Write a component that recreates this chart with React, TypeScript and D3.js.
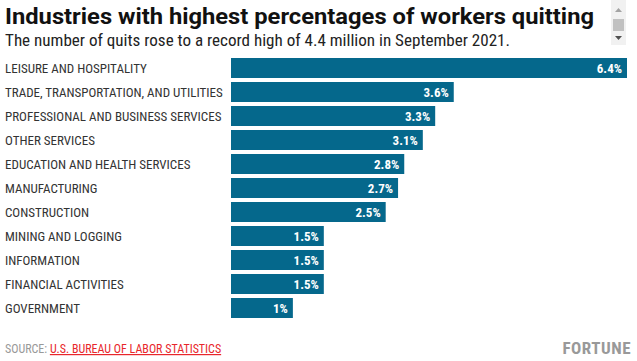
import React, { useEffect, useRef } from 'react';
import * as d3 from 'd3';

const industries = [
  'LEISURE AND HOSPITALITY',
  'TRADE, TRANSPORTATION, AND UTILITIES',
  'PROFESSIONAL AND BUSINESS SERVICES',
  'OTHER SERVICES',
  'EDUCATION AND HEALTH SERVICES',
  'MANUFACTURING',
  'CONSTRUCTION',
  'MINING AND LOGGING',
  'INFORMATION',
  'FINANCIAL ACTIVITIES',
  'GOVERNMENT',
];
const quitRates = [6.4, 3.6, 3.3, 3.1, 2.8, 2.7, 2.5, 1.5, 1.5, 1.5, 1.0];
const valueLabels = ['6.4%', '3.6%', '3.3%', '3.1%', '2.8%', '2.7%', '2.5%', '1.5%', '1.5%', '1.5%', '1%'];

const W = 637;
const H = 361;
const COND = '"Liberation Sans Narrow", "Roboto Condensed", "Arial Narrow", Roboto, sans-serif';

const App = () => {
  const svgRef = useRef<SVGSVGElement>(null);

  useEffect(() => {
    const svg = d3.select(svgRef.current);
    svg.selectAll('*').remove();

    // title block
    svg.append('text')
      .attr('x', 5).attr('y', 24)
      .attr('textLength', 589)
      .attr('lengthAdjust', 'spacingAndGlyphs')
      .style('font-family', 'Roboto, "Liberation Sans", sans-serif')
      .style('font-weight', 700)
      .style('font-size', '22px')
      .attr('fill', '#111')
      .text('Industries with highest percentages of workers quitting');

    svg.append('text')
      .attr('x', 5).attr('y', 46)
      .attr('textLength', 505)
      .attr('lengthAdjust', 'spacingAndGlyphs')
      .style('font-family', COND)
      .style('font-size', '16.5px')
      .attr('fill', '#222')
      .text('The number of quits rose to a record high of 4.4 million in September 2021.');

    // scrollbar leftover from the embed
    const sb = svg.append('g');
    sb.append('rect').attr('x', 611).attr('y', 0).attr('width', 15).attr('height', 45).attr('fill', '#f1f1f1');
    sb.append('rect').attr('x', 613).attr('y', 19).attr('width', 11).attr('height', 12).attr('fill', '#c1c1c1');
    sb.append('path').attr('d', 'M615,12 L618.5,8 L622,12 Z').attr('fill', '#a3a3a3');
    sb.append('path').attr('d', 'M615,36 L618.5,40 L622,36 Z').attr('fill', '#505050');

    const x = d3.scaleLinear().domain([0, 6.4]).range([231, 627]);
    // step 24, band 20
    const y = d3.scaleBand().domain(industries).range([58, 318]).paddingInner(1 / 6).paddingOuter(0);

    const rows = svg.append('g')
      .selectAll('g')
      .data(industries)
      .enter()
      .append('g');

    rows.append('text')
      .attr('x', 5)
      .attr('y', d => (y(d) as number) + y.bandwidth() / 2 + 4.5)
      .style('font-family', COND)
      .style('font-size', '13px')
      .attr('fill', '#333')
      .text(d => d);

    rows.append('rect')
      .attr('x', x(0))
      .attr('y', d => y(d) as number)
      .attr('width', (d, i) => x(quitRates[i]) - x(0))
      .attr('height', y.bandwidth())
      .attr('fill', '#05688c');

    rows.append('text')
      .attr('x', (d, i) => x(quitRates[i]) - 5)
      .attr('y', d => (y(d) as number) + y.bandwidth() / 2 + 4.5)
      .attr('text-anchor', 'end')
      .style('font-family', COND)
      .style('font-weight', 700)
      .style('font-size', '13px')
      .attr('fill', '#fff')
      .text((d, i) => valueLabels[i]);

    // footer
    const src = svg.append('text')
      .attr('x', 5).attr('y', 353)
      .style('font-family', COND)
      .style('font-size', '12px');
    src.append('tspan').attr('fill', '#999').text('SOURCE: ');
    src.append('tspan')
      .attr('fill', '#e8262b')
      .style('text-decoration', 'underline')
      .text('U.S. BUREAU OF LABOR STATISTICS');

    svg.append('text')
      .attr('x', 631).attr('y', 354)
      .attr('text-anchor', 'end')
      .style('font-family', COND)
      .style('font-weight', 700)
      .style('font-size', '17px')
      .style('letter-spacing', '0.5px')
      .attr('fill', '#999')
      .text('FORTUNE');
  }, []);

  return (
    <svg
      ref={svgRef}
      width={W}
      height={H}
      style={{ position: 'absolute', left: 0, top: 0, background: '#fff' }}
    />
  );
};

export default App;
